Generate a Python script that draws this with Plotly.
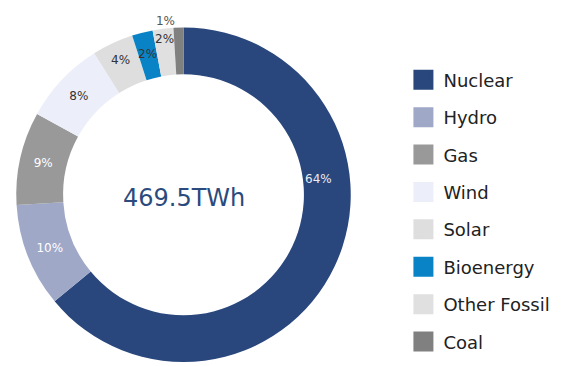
import math
import plotly.graph_objects as go

# Electricity generation mix (TWh)
sources = ["Nuclear", "Hydro", "Gas", "Wind", "Solar", "Bioenergy", "Other Fossil", "Coal"]
generation_twh = [300.5, 47.0, 42.3, 37.6, 18.8, 9.4, 9.4, 4.5]
total_label = "469.5TWh"

colors = ["#29477c", "#a0a8c8", "#999999", "#eceff9", "#dedede", "#0a83c6", "#e0e0e0", "#808080"]
text_colors = ["#e8ecf4", "#ffffff", "#ffffff", "#333333", "#333333", "#333333", "#333333", "#555555"]
text_positions = ["inside"] * 7 + ["outside"]

# slices whose percentage is written as a free label rather than fitted text:
# name -> (position along the ring as a fraction of the total, radius factor)
free_labels = {"Nuclear": (0.235, 0.81), "Bioenergy": (0.96, 0.86), "Other Fossil": (0.98, 0.93)}

FONT = "DejaVu Sans"
W, H = 569, 367
DOMAIN_X = [0.02, 0.625]
DOMAIN_Y = [0.0, 0.924]
RING_CX, RING_CY, RING_R = 183.5, 194.0, 167.0  # ring centre/radius in pixels

total = sum(generation_twh)
templates = ["" if s in free_labels else "%{percent:.0%}" for s in sources]

fig = go.Figure()

fig.add_trace(go.Pie(
    labels=sources,
    values=generation_twh,
    sort=False,
    direction="clockwise",
    rotation=0,
    hole=0.72,
    marker=dict(colors=colors, line=dict(width=0)),
    texttemplate=templates,
    textposition=text_positions,
    insidetextorientation="horizontal",
    textfont=dict(family=FONT, size=12, color=text_colors),
    outsidetextfont=dict(family=FONT, size=12, color="#555555"),
    domain=dict(x=DOMAIN_X, y=DOMAIN_Y),
    showlegend=False,
))

for name, (frac, rf) in free_labels.items():
    i = sources.index(name)
    ang = 2 * math.pi * frac
    px = RING_CX + RING_R * rf * math.sin(ang)
    py = RING_CY - RING_R * rf * math.cos(ang)
    fig.add_annotation(
        text=f"{round(100 * generation_twh[i] / total)}%",
        x=px / W, y=1 - py / H, xref="paper", yref="paper",
        xanchor="center", yanchor="middle", showarrow=False,
        font=dict(family=FONT, size=12, color=text_colors[i]),
    )

# Legend entries as marker-only traces so each swatch can be spaced like the key
for name, col in zip(sources, colors):
    fig.add_trace(go.Scatter(
        x=[None], y=[None], mode="markers", name=name,
        legendgroup=name,
        marker=dict(symbol="square", size=16, color=col, line=dict(width=4, color=col)),
    ))

fig.add_annotation(
    text=total_label, x=RING_CX / W, y=0.452, xref="paper", yref="paper",
    xanchor="center", yanchor="middle",
    showarrow=False, font=dict(family=FONT, size=24, color="#2b4a7e"),
)

fig.update_layout(
    width=W, height=H,
    margin=dict(l=0, r=0, t=0, b=0),
    paper_bgcolor="white", plot_bgcolor="white",
    xaxis=dict(visible=False), yaxis=dict(visible=False),
    legend=dict(
        x=0.709, y=0.83, xanchor="left", yanchor="top",
        font=dict(family=FONT, size=18, color="#222222"),
        tracegroupgap=11, itemsizing="trace",
    ),
)

fig.write_html("out.html")
